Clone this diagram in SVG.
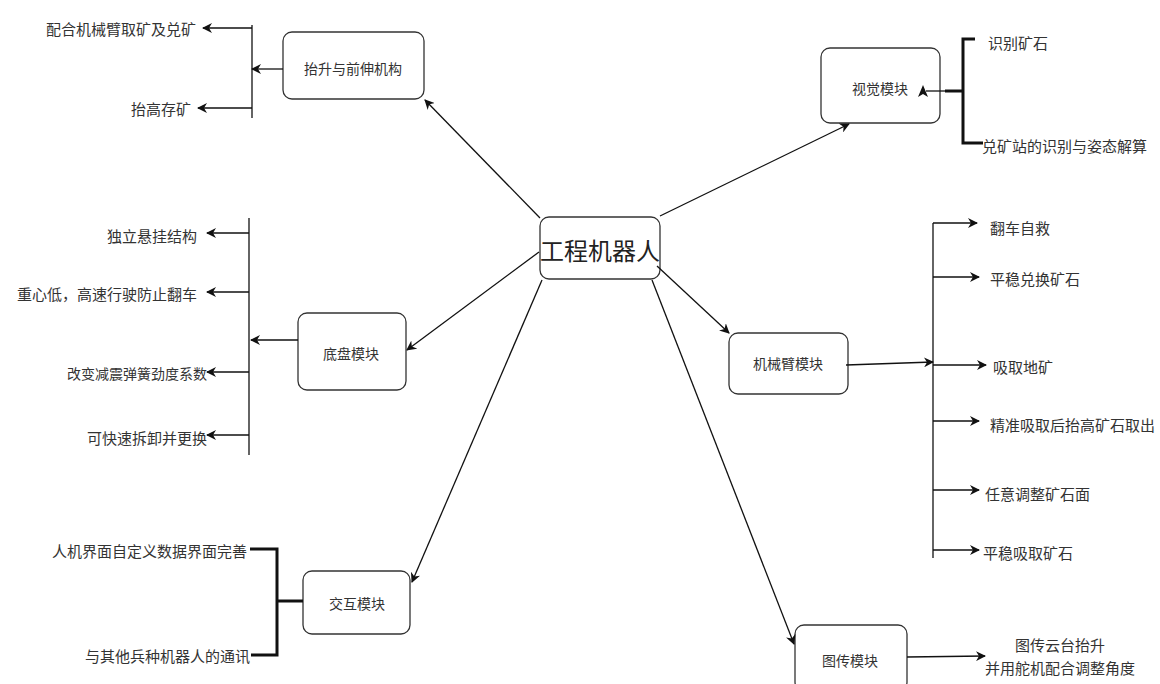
<svg xmlns="http://www.w3.org/2000/svg" width="1160" height="684" viewBox="0 0 1160 684">
  <defs>
    <marker id="arr" viewBox="0 0 10 10" refX="9" refY="5" markerWidth="10" markerHeight="10" markerUnits="userSpaceOnUse" orient="auto">
      <path d="M0,0 L10,5 L0,10 L3,5 z" fill="#111"/>
    </marker>
    <style>
      .box { fill: #fff; stroke: #333; stroke-width: 1.3; }
      .lbl { font-family: "Noto Sans CJK SC", "Noto Sans", sans-serif; font-size: 14px; fill: #333; text-anchor: middle; dominant-baseline: central; }
      .leaf { font-family: "Noto Sans CJK SC", "Noto Sans", sans-serif; font-size: 15px; fill: #333; dominant-baseline: central; }
      .end { text-anchor: end; }
      .mid { text-anchor: middle; }
      .ln { fill: none; stroke: #111; stroke-width: 1.3; }
      .thick { fill: none; stroke: #111; stroke-width: 3; }
      .arrow { marker-end: url(#arr); }
    </style>
  </defs>
  <rect width="1160" height="684" fill="#fff"/>

  <!-- nodes -->
  <g id="center">
    <rect class="box" x="540" y="217" width="120" height="62" rx="9"/>
    <text class="lbl" x="600" y="249" style="font-size:24px;fill:#222">工程机器人</text>
  </g>
  <g id="lift">
    <rect class="box" x="283" y="32" width="141" height="67" rx="9"/>
    <text class="lbl" x="353" y="68">抬升与前伸机构</text>
  </g>
  <g id="vision">
    <rect class="box" x="821" y="48" width="119" height="75" rx="9"/>
    <text class="lbl" x="880" y="88">视觉模块</text>
  </g>
  <g id="chassis">
    <rect class="box" x="298" y="313" width="108" height="77" rx="9"/>
    <text class="lbl" x="351" y="353">底盘模块</text>
  </g>
  <g id="arm">
    <rect class="box" x="729" y="333" width="119" height="61" rx="9"/>
    <text class="lbl" x="788" y="363">机械臂模块</text>
  </g>
  <g id="interaction">
    <rect class="box" x="303" y="571" width="107" height="63" rx="9"/>
    <text class="lbl" x="357" y="603">交互模块</text>
  </g>
  <g id="imagetx">
    <rect class="box" x="795" y="625" width="112" height="66" rx="9"/>
    <text class="lbl" x="850" y="660">图传模块</text>
  </g>

  <!-- connectors -->
  <g id="connectors">
    <!-- from the central node -->
    <line class="ln arrow" x1="540" y1="218" x2="425" y2="100"/>
    <line class="ln arrow" x1="660" y1="216" x2="849" y2="124"/>
    <line class="ln arrow" x1="539" y1="252" x2="407" y2="350"/>
    <line class="ln arrow" x1="542" y1="280" x2="412" y2="582"/>
    <line class="ln arrow" x1="657" y1="266" x2="729" y2="333"/>
    <line class="ln arrow" x1="652" y1="280" x2="794" y2="644"/>

    <!-- lift mechanism branches -->
    <line class="ln" x1="252" y1="25" x2="252" y2="118"/>
    <line class="ln arrow" x1="283" y1="69" x2="252" y2="69"/>
    <line class="ln arrow" x1="252" y1="28" x2="203" y2="28"/>
    <line class="ln arrow" x1="252" y1="108" x2="198" y2="108"/>

    <!-- vision branches -->
    <polyline class="thick" points="975,39 963,39 963,143 983,143"/>
    <line class="thick" x1="963" y1="91" x2="945" y2="91"/>
    <line class="ln" x1="945" y1="91" x2="926" y2="91"/>
    <polygon points="923,85 928,97 923,94 918,97" fill="#111"/>

    <!-- chassis branches -->
    <line class="ln" x1="249" y1="218" x2="249" y2="455"/>
    <line class="ln arrow" x1="298" y1="340" x2="251" y2="340"/>
    <line class="ln arrow" x1="249" y1="233" x2="207" y2="233"/>
    <line class="ln arrow" x1="249" y1="292" x2="207" y2="292"/>
    <line class="ln arrow" x1="249" y1="372" x2="207" y2="372"/>
    <line class="ln arrow" x1="249" y1="435" x2="207" y2="435"/>

    <!-- arm branches -->
    <line class="ln arrow" x1="846" y1="365" x2="933" y2="362"/>
    <line class="ln" x1="933" y1="223" x2="933" y2="558"/>
    <line class="ln arrow" x1="933" y1="223" x2="977" y2="223"/>
    <line class="ln arrow" x1="933" y1="277" x2="979" y2="277"/>
    <line class="ln arrow" x1="933" y1="365" x2="986" y2="365"/>
    <line class="ln arrow" x1="933" y1="421" x2="979" y2="421"/>
    <line class="ln arrow" x1="933" y1="490" x2="979" y2="490"/>
    <line class="ln arrow" x1="933" y1="550" x2="979" y2="550"/>

    <!-- interaction branches -->
    <polyline class="thick" points="250,549 277,549 277,655 251,655"/>
    <line class="thick" x1="277" y1="601" x2="303" y2="601"/>

    <!-- image transmission branch -->
    <line class="ln arrow" x1="907" y1="657" x2="985" y2="656"/>
  </g>

  <!-- leaf labels -->
  <g id="lift-leaves">
    <text class="leaf end" x="196" y="28">配合机械臂取矿及兑矿</text>
    <text class="leaf end" x="191" y="108">抬高存矿</text>
  </g>
  <g id="vision-leaves">
    <text class="leaf" x="988" y="42">识别矿石</text>
    <text class="leaf" x="982" y="145">兑矿站的识别与姿态解算</text>
  </g>
  <g id="chassis-leaves">
    <text class="leaf end" x="197" y="235">独立悬挂结构</text>
    <text class="leaf end" x="197" y="293">重心低，高速行驶防止翻车</text>
    <text class="leaf end" x="207" y="373" style="font-size:14px">改变减震弹簧劲度系数</text>
    <text class="leaf end" x="207" y="437">可快速拆卸并更换</text>
  </g>
  <g id="arm-leaves">
    <text class="leaf" x="990" y="227">翻车自救</text>
    <text class="leaf" x="990" y="278">平稳兑换矿石</text>
    <text class="leaf" x="993" y="366">吸取地矿</text>
    <text class="leaf" x="990" y="424">精准吸取后抬高矿石取出</text>
    <text class="leaf" x="985" y="493">任意调整矿石面</text>
    <text class="leaf" x="983" y="552">平稳吸取矿石</text>
  </g>
  <g id="interaction-leaves">
    <text class="leaf end" x="247" y="550">人机界面自定义数据界面完善</text>
    <text class="leaf end" x="250" y="655">与其他兵种机器人的通讯</text>
  </g>
  <g id="imagetx-leaves">
    <text class="leaf mid" x="1060" y="644">图传云台抬升</text>
    <text class="leaf mid" x="1060" y="667">并用舵机配合调整角度</text>
  </g>
</svg>
